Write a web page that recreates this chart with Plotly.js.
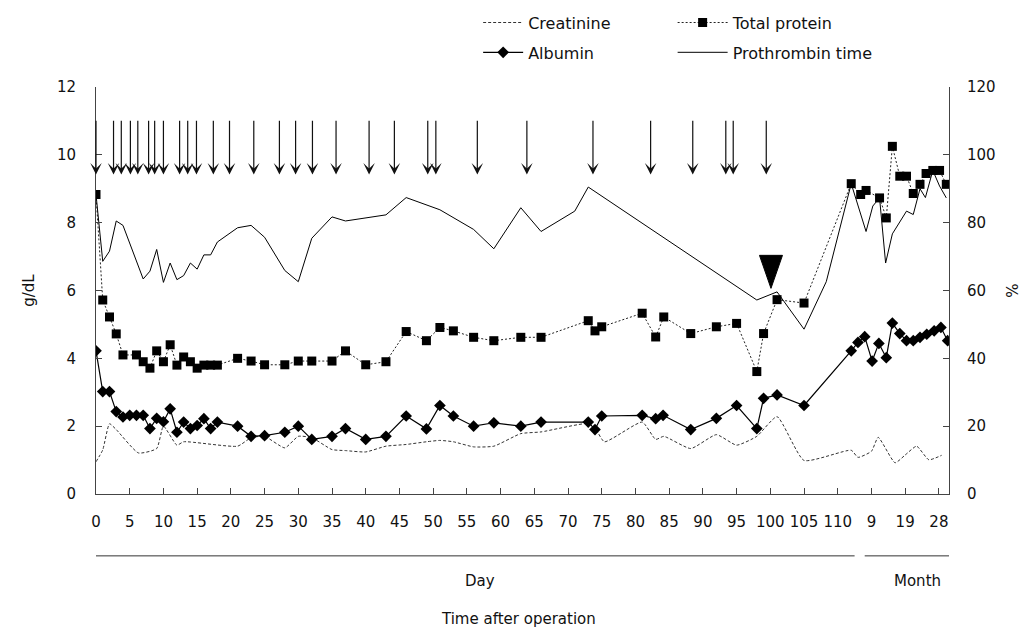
<!DOCTYPE html>
<html>
<head>
<meta charset="utf-8">
<script src="https://cdn.plot.ly/plotly-3.0.1.min.js"></script>
<style>html,body{margin:0;padding:0;background:#fff;}#chart{width:1035px;height:630px;}</style>
</head>
<body>
<div id="chart"></div>
<script>
// x positions on the axis: days 0-110 (1 unit = 1 day), then months 9/19/28 at 115/120/125
const tickPositions = [0,5,10,15,20,25,30,35,40,45,50,55,60,65,70,75,80,85,90,95,100,105,110,115,120,125];
const tickLabels = ['0','5','10','15','20','25','30','35','40','45','50','55','60','65','70','75','80','85','90','95','100','105','110','9','19','28'];

const creatinineX = [0,1,2,3,6.3,9,10,12,13,21,23,25,28,30,32,35,37,40,43,46,49,51,53,56,59,63,66,73,74,75.4,81,83,84.2,88.2,92,95,98,101,105,112,113,115,116,118.5,120,121.7,123.5,125.4];
const creatinineY = [0.95,1.3,2.07,1.9,1.21,1.34,2.0,1.44,1.54,1.41,1.66,1.7,1.36,1.7,1.66,1.31,1.28,1.24,1.41,1.46,1.54,1.58,1.54,1.39,1.41,1.78,1.83,2.08,1.95,1.54,2.12,1.61,1.7,1.34,1.75,1.44,1.7,2.28,0.99,1.29,1.08,1.26,1.67,0.92,1.15,1.41,1.01,1.14];

const totalProteinX = [0,1,2,3,4,6,7,8,9,10,11,12,13,14,15,16,17,18,21,23,25,28,30,32,35,37,40,43,46,49,51,53,56,59,63,66,73,74,75,81,83,84.2,88.2,92,95,98,99,101,105,112,113.4,114.2,116.2,117.2,118.1,119.2,120.2,121.2,122.2,123.1,124.1,125.1,126.1];
const totalProteinY = [8.83,5.72,5.22,4.72,4.10,4.10,3.90,3.71,4.22,3.90,4.40,3.80,4.04,3.90,3.71,3.80,3.80,3.80,4.00,3.92,3.81,3.81,3.92,3.92,3.92,4.22,3.81,3.90,4.79,4.52,4.91,4.81,4.62,4.52,4.62,4.62,5.11,4.81,4.93,5.33,4.63,5.22,4.73,4.93,5.03,3.61,4.73,5.73,5.63,9.15,8.83,8.95,8.73,8.14,10.25,9.37,9.37,8.86,9.13,9.45,9.54,9.54,9.13];

const albuminX = [0,1,2,3,4,5,6,7,8,9,10,11,12,13,14,15,16,17,18,21,23,25,28,30,32,35,37,40,43,46,49,51,53,56,59,63,66,73,74,75,81,83,84.1,88.2,92,95,98,99,101,105,112,113,114,115.1,116.1,117.2,118.1,119.2,120.2,121.2,122.2,123.2,124.3,125.3,126.3];
const albuminY = [4.22,3.02,3.02,2.43,2.27,2.32,2.32,2.32,1.93,2.23,2.13,2.51,1.82,2.12,1.93,2.02,2.22,1.93,2.12,2.0,1.7,1.72,1.82,2.0,1.61,1.7,1.93,1.61,1.7,2.3,1.92,2.61,2.3,2.0,2.1,2.0,2.12,2.12,1.9,2.3,2.32,2.22,2.32,1.9,2.23,2.61,1.93,2.82,2.92,2.61,4.22,4.47,4.64,3.92,4.44,4.02,5.04,4.73,4.52,4.52,4.62,4.71,4.81,4.91,4.52];

const prothrombinX = [0,1,2,3,4,7,8,9,10,11,12,13,14,15,16,17,18,21,23,25,28,30,32,35,37,43,46,51,56,59,63,66,71,73,98,101,105,108.3,112,114.2,115.2,116.2,117.1,118.1,120.2,121.2,122.2,123,124.1,125.1,126.1];
const prothrombinY = [88.3,68.6,71.6,80.5,79.2,63.4,65.7,72.1,62.4,68.1,63.2,64.4,68.1,66.3,70.5,70.5,74.3,78.5,79.2,75.7,65.9,62.6,75.4,81.7,80.5,82.3,87.4,83.8,78,72.3,84.4,77.4,83.4,90.5,57.2,59.6,48.6,62.6,91.5,77.4,84.9,87.3,68.1,76.7,83.4,82.4,90,87.4,95.4,90.8,87.3];

// treatment arrows (day positions) and the event marker
const arrowDays = [0,2.6,3.75,5.1,6.2,7.8,8.7,10,12.4,13.6,14.9,17.4,19.8,23.4,27.2,29.6,32.1,35.6,40.5,44.25,49.2,50.4,56.55,63.9,73.7,82.25,88.5,93.4,94.5,99.4];
const arrowTipLevel = 9.42;
const arrowTailLevel = 11.05;
const eventDay = 100.1;
const eventLevel = 6.55;

const FONT = 'DejaVu Sans, Verdana, sans-serif';
const INK = '#111';

const traces = [
  {name:'Creatinine', x:creatinineX, y:creatinineY, type:'scatter', mode:'lines',
   line:{color:'#333', width:1, dash:'3px,2px', shape:'spline', smoothing:0.5},
   legend:'legend', legendgroup:'a'},
  {name:'Total protein', x:totalProteinX, y:totalProteinY, type:'scatter', mode:'lines+markers',
   line:{color:'#222', width:1, dash:'2px,2px'},
   marker:{symbol:'square', size:9, color:'#000'},
   legend:'legend2', legendgroup:'b'},
  {name:'Albumin', x:albuminX, y:albuminY, type:'scatter', mode:'lines+markers',
   line:{color:'#000', width:1.2},
   marker:{symbol:'diamond', size:9, color:'#000'},
   legend:'legend', legendgroup:'c'},
  {name:'Prothrombin time', x:prothrombinX, y:prothrombinY, type:'scatter', mode:'lines', yaxis:'y2',
   line:{color:'#000', width:1},
   legend:'legend2', legendgroup:'d'}
];

const annotations = arrowDays.map(d => ({
  x:d, y:arrowTipLevel, ax:d, ay:arrowTailLevel, xref:'x', yref:'y', axref:'x', ayref:'y',
  text:'', showarrow:true, arrowhead:3, arrowsize:1.6, arrowwidth:1.2, arrowcolor:'#111', standoff:0
}));
annotations.push(
  {x:57, y:-0.242, xref:'x', yref:'paper', text:'Day', showarrow:false, font:{family:FONT, size:15, color:INK}},
  {x:121.8, y:-0.242, xref:'x', yref:'paper', text:'Month', showarrow:false, font:{family:FONT, size:15, color:INK}},
  {x:0.495, y:-0.335, xref:'paper', yref:'paper', text:'Time after operation', showarrow:false, font:{family:FONT, size:15, color:INK}}
);

const shapes = [
  {type:'line', xref:'x', yref:'paper', x0:-1.2, x1:112.5, y0:-0.152, y1:-0.152, line:{color:'#333', width:1}},
  {type:'line', xref:'x', yref:'paper', x0:114, x1:127.5, y0:-0.152, y1:-0.152, line:{color:'#333', width:1}},
  {type:'path', xref:'x', yref:'y', xsizemode:'pixel', ysizemode:'pixel', xanchor:eventDay, yanchor:eventLevel,
   path:'M-11.5,16.5 L11.5,16.5 L0,-16.5 Z', fillcolor:'#000', line:{color:'#000', width:1}}
];

const axisCommon = {showgrid:false, zeroline:false, showline:true, linecolor:'#444', linewidth:1,
  ticks:'inside', ticklen:6, tickcolor:'#444', tickfont:{family:FONT, size:15, color:INK}};

const legendFont = {family:FONT, size:16, color:INK};

const layout = {
  width:1035, height:630,
  margin:{l:96, r:86, t:87, b:136, autoexpand:false},
  paper_bgcolor:'#fff', plot_bgcolor:'#fff',
  font:{family:FONT, size:15, color:INK},
  showlegend:true,
  xaxis:Object.assign({}, axisCommon, {range:[0,126.5], tickmode:'array', tickvals:tickPositions, ticktext:tickLabels, ticklabelstandoff:14}),
  yaxis:Object.assign({}, axisCommon, {range:[0,12], dtick:2, tick0:0, ticklabelstandoff:16,
    title:{text:'g/dL', font:{family:FONT, size:15, color:INK}, standoff:18}}),
  yaxis2:Object.assign({}, axisCommon, {overlaying:'y', side:'right', range:[0,120], dtick:20, tick0:0, ticklabelstandoff:14,
    title:{text:'%', font:{family:FONT, size:15, color:INK}, standoff:12}}),
  legend:{x:0.448, y:1.2, xanchor:'left', yanchor:'top', orientation:'v', traceorder:'grouped', tracegroupgap:6,
    itemwidth:40, bgcolor:'rgba(0,0,0,0)', font:legendFont},
  legend2:{x:0.676, y:1.2, xanchor:'left', yanchor:'top', orientation:'v', traceorder:'grouped', tracegroupgap:6,
    itemwidth:50, bgcolor:'rgba(0,0,0,0)', font:legendFont},
  annotations:annotations,
  shapes:shapes
};

Plotly.newPlot('chart', traces, layout, {staticPlot:true, displayModeBar:false});
</script>
</body>
</html>
